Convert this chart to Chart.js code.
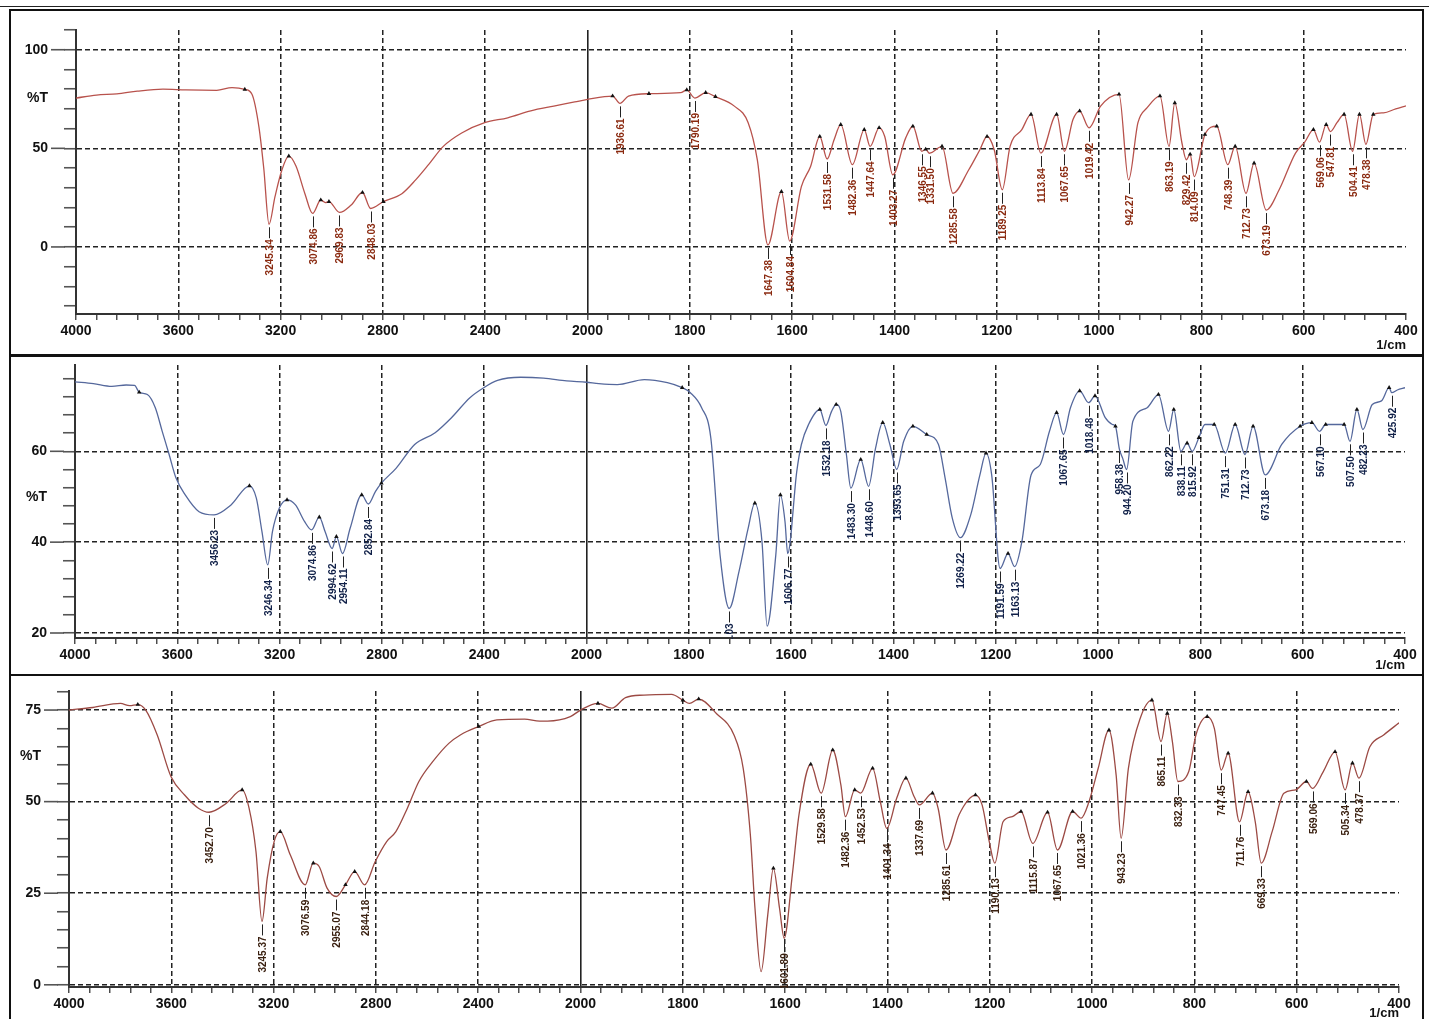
<!DOCTYPE html>
<html>
<head>
<meta charset="utf-8">
<script src="https://cdn.jsdelivr.net/npm/chart.js@4.4.1/dist/chart.umd.min.js"></script>
<style>
  html, body { margin: 0; padding: 0; background: #fff; width: 1429px; height: 1019px; overflow: hidden; }
  .rule { position: absolute; left: 0; top: 6px; width: 1429px; border-top: 1.5px solid #222; }
  .panel { position: absolute; left: 9px; width: 1415px; box-sizing: border-box; border: 2px solid #111; background: #fff; }
  .panel canvas { display: block; }
</style>
</head>
<body>
<div class="rule"></div>
<div class="panel" style="top:9px;height:347px"><canvas id="c1" width="1411" height="343"></canvas></div>
<div class="panel" style="top:355px;height:321px"><canvas id="c2" width="1411" height="317"></canvas></div>
<div class="panel" style="top:674px;height:352px"><canvas id="c3" width="1411" height="346"></canvas></div>
<script>
// ---- x axis (wavenumber, 1/cm) ----
const xLabels = [4000, 3600, 3200, 2800, 2400, 2000, 1800, 1600, 1400, 1200, 1000, 800, 600, 400];

// ---- spectrum 1 (top, red) ----
const p1Wn = [4000, 3920, 3840, 3760, 3660, 3570, 3450, 3390, 3340, 3312, 3285, 3266, 3245.34, 3222, 3195, 3168, 3140, 3105, 3074.86, 3043, 3025, 3011, 2969.83, 2924, 2880, 2848.03, 2798, 2726, 2672, 2620, 2564, 2492, 2402, 2312, 2222, 2132, 2050, 2000,
  1951, 1936.61, 1920, 1880, 1818, 1806, 1790.19, 1769, 1750, 1713, 1686, 1668, 1647.38, 1621, 1604.84, 1582, 1564, 1546, 1531.58, 1518, 1505, 1482.36, 1459, 1447.64, 1430, 1419, 1403.27, 1378, 1364, 1346.55, 1339, 1331.50, 1307, 1285.58, 1255, 1233, 1219, 1205, 1189.25, 1174, 1151, 1133, 1113.84, 1083, 1067.65, 1051, 1038, 1019.42, 997, 961, 942.27, 924, 906, 881, 863.19, 852, 838, 829.42, 822, 814.09, 793, 770, 748.39, 734, 712.73, 697, 673.19, 648, 616, 598, 581, 569.06, 556, 547.81, 535, 521, 504.41, 491, 478.38, 464, 444, 420, 400];
const p1T = [75.5, 77.0, 77.6, 79.0, 80.0, 79.6, 79.4, 80.8, 79.9, 77.4, 61, 40, 11.5, 25.5, 39, 46, 41, 27, 17, 23.8, 22.5, 23, 17.5, 21.3, 27.6, 19.5, 23, 27, 34, 42, 51, 57.8, 63, 65.5, 69, 71.4, 73.5, 74.8,
  76.5, 72.8, 76.5, 77.7, 78.2, 79.6, 75.5, 78.2, 76.2, 71.4, 63, 44, 1, 28, 3, 30.6, 40.8, 56, 44.6, 54.4, 62, 41.7, 59.5, 51, 60.4, 56, 36.6, 55.3, 61.2, 48.5, 49.5, 47.5, 51, 27.2, 39, 49.3, 56, 49.3, 29, 51, 59.5, 67.2, 47.6, 67.2, 48.5, 64.6, 68.9, 60.4, 71.4, 77.4, 34, 63, 70.6, 76.5, 51, 73, 52.7, 44.2, 47, 35.7, 57, 61.2, 41.7, 51, 27.2, 42.5, 18.7, 29, 47.6, 53.1, 59.5, 53.1, 62, 58.5, 63, 67.2, 48.5, 67.2, 52, 67.2, 68, 70, 71.5];
const p1PeakWn = [3245.34, 3074.86, 2969.83, 2848.03, 1936.61, 1790.19, 1647.38, 1604.84, 1531.58, 1482.36, 1447.64, 1403.27, 1346.55, 1331.50, 1285.58, 1189.25, 1113.84, 1067.65, 1019.42, 942.27, 863.19, 829.42, 814.09, 748.39, 712.73, 673.19, 569.06, 547.81, 504.41, 478.38];
const p1PeakT = [11.5, 17, 17.5, 19.5, 72.8, 75.5, 1, 3, 44.6, 41.7, 51, 36.6, 48.5, 47.5, 27.2, 29, 47.6, 48.5, 60.4, 34, 51, 44.2, 35.7, 41.7, 27.2, 18.7, 53.1, 58.5, 48.5, 52];
const p1MarkWn = [3340, 3168, 3043, 3011, 2880, 2798, 1951, 1880, 1806, 1769, 1750, 1621, 1546, 1505, 1459, 1430, 1364, 1339, 1307, 1219, 1133, 1083, 1038, 961, 881, 852, 822, 793, 770, 734, 697, 581, 556, 521, 491, 464];
const p1MarkT = [79.9, 46, 23.8, 23, 27.6, 23, 76.5, 77.7, 79.6, 78.2, 76.2, 28, 56, 62, 59.5, 60.4, 61.2, 49.5, 51, 56, 67.2, 67.2, 68.9, 77.4, 76.5, 73, 47, 57, 61.2, 51, 42.5, 59.5, 62, 67.2, 67.2, 67.2];
const p1YTicks = [110, 100, 90, 80, 70, 60, 50, 40, 30, 20, 10, 0, -10, -20, -30];
const p1YLabels = [100, 50, 0];

// ---- spectrum 2 (middle, blue) ----
const p2Wn = [4000, 3928, 3856, 3800, 3767, 3749, 3717, 3686, 3659, 3632, 3605, 3569, 3515, 3456.23, 3390, 3318, 3291, 3269, 3246.34, 3228, 3201, 3171, 3138, 3102, 3074.86, 3045, 3022, 2994.62, 2978, 2954.11, 2924, 2879, 2852.84, 2825, 2802, 2744, 2672, 2592, 2528, 2456, 2402, 2348, 2258, 2168, 2078, 2000,
  1976, 1940, 1887, 1842, 1813, 1797, 1775, 1757, 1739, 1721.03, 1702, 1684, 1671, 1657, 1647, 1630, 1621, 1612, 1606.77, 1589, 1580, 1566, 1544, 1532.18, 1521, 1512, 1503, 1492, 1483.30, 1464, 1448.60, 1435, 1421, 1407, 1393.65, 1380, 1362, 1335, 1312, 1299, 1285, 1269.22, 1249, 1231, 1219, 1208, 1191.59, 1176, 1163.13, 1149, 1131, 1113, 1095, 1081, 1067.65, 1054, 1036, 1018.48, 1006, 986, 972, 966, 958.38, 952, 944.20, 932, 904, 882, 862.22, 852, 838.11, 826, 815.92, 803, 791, 773, 751.31, 732, 712.73, 697, 673.18, 641, 605, 582, 567.10, 555, 519, 507.50, 494, 482.23, 464, 446, 431, 425.92, 415, 400];
const p2T = [75.3, 74.9, 74.3, 74.6, 74.5, 73, 72.5, 69.6, 64.4, 59.3, 54.1, 50.4, 46.7, 46, 48.2, 52.4, 49.7, 42.3, 35, 42.3, 47.5, 49.3, 48.2, 44.5, 42.7, 45.5, 42.3, 38.6, 41.2, 37.5, 43.1, 50.4, 48.4, 51.2, 53, 56.3, 61.5, 64.1, 67.4, 71.8, 74, 75.6, 76.3, 76.1, 75.5, 75.2,
  74.9, 74.7, 75.8, 75.1, 74, 72.9, 69.6, 62.9, 37.2, 25.4, 33.5, 43.1, 48.6, 40.1, 21.5, 37.2, 50.4, 44.5, 37.5, 55.6, 61.5, 65.9, 69.2, 65.7, 68.8, 70.3, 68.8, 59.3, 51.9, 58.2, 52.3, 60.7, 66.3, 61.5, 56, 62.2, 65.5, 63.7, 61.5, 54.1, 45.3, 41, 46, 54.8, 59.6, 54.8, 34.2, 37.5, 34.6, 40.1, 54.8, 57.1, 64.4, 68.5, 63.7, 69.6, 73.3, 70.7, 72.2, 67.4, 65.9, 65.5, 60.5, 58.5, 56, 66.6, 69.6, 72.5, 64.4, 69.2, 60, 61.8, 60, 63, 65.9, 65.9, 59.6, 65.9, 59.3, 65.5, 54.8, 61.5, 65.5, 66.3, 64.4, 65.9, 65.9, 62.2, 69.2, 64.8, 70.3, 71.1, 74, 72.9, 73.5, 74];
const p2PeakWn = [3456.23, 3246.34, 3074.86, 2994.62, 2954.11, 2852.84, 1721.03, 1606.77, 1532.18, 1483.30, 1448.60, 1393.65, 1269.22, 1191.59, 1163.13, 1067.65, 1018.48, 958.38, 944.20, 862.22, 838.11, 815.92, 751.31, 712.73, 673.18, 567.10, 507.50, 482.23, 425.92];
const p2PeakT = [46, 35, 42.7, 38.6, 37.5, 48.4, 25.4, 37.5, 65.7, 51.9, 52.3, 56, 41, 34.2, 34.6, 63.7, 70.7, 60.5, 56, 64.4, 60, 60, 59.6, 59.3, 54.8, 64.4, 62.2, 64.8, 72.9];
const p2MarkWn = [3749, 3318, 3171, 3045, 2978, 2879, 2802, 1813, 1671, 1621, 1544, 1512, 1464, 1421, 1362, 1335, 1219, 1176, 1081, 1036, 1006, 966, 882, 852, 826, 803, 773, 732, 697, 605, 582, 555, 519, 494, 431];
const p2MarkT = [73, 52.4, 49.3, 45.5, 41.2, 50.4, 53, 74, 48.6, 50.4, 69.2, 70.3, 58.2, 66.3, 65.5, 63.7, 59.6, 37.5, 68.5, 73.3, 72.2, 65.5, 72.5, 69.2, 61.8, 63, 65.9, 65.9, 65.5, 65.5, 66.3, 65.9, 65.9, 69.2, 74];
const p2YTicks = [76, 72, 68, 64, 60, 56, 52, 48, 44, 40, 36, 32, 28, 24, 20];
const p2YLabels = [60, 40, 20];

// ---- spectrum 3 (bottom, brown) ----
const p3Wn = [4000, 3907, 3799, 3763, 3731, 3700, 3655, 3601, 3548, 3494, 3452.70, 3386, 3323, 3296, 3269, 3245.37, 3225, 3198, 3174, 3135, 3076.59, 3045, 3022, 2991, 2955.07, 2919, 2883, 2844.18, 2803, 2758, 2722, 2677, 2632, 2578, 2515, 2470, 2398, 2327, 2219, 2160, 2129, 2040, 2000,
  1966, 1939, 1912, 1876, 1822, 1800, 1787, 1769, 1734, 1700, 1682, 1668, 1659, 1647, 1634, 1623, 1611, 1601.89, 1586, 1573, 1550, 1529.58, 1507, 1491, 1482.36, 1464, 1452.53, 1429, 1414, 1401.34, 1382, 1364, 1348, 1337.69, 1312, 1301, 1285.61, 1260, 1242, 1228, 1215, 1201, 1190.13, 1174, 1156, 1139, 1115.87, 1087, 1067.65, 1038, 1021.36, 1006, 988, 967, 953, 943.23, 929, 906, 883, 865.11, 853, 843, 832.33, 811, 797, 775, 761, 747.45, 734, 711.76, 695, 681, 669.33, 648, 625, 602, 581, 569.06, 548, 525, 505.34, 491, 478.37, 457, 430, 400];
const p3T = [75, 75.7, 76.8, 76.2, 76.5, 75, 68.2, 56.8, 51.8, 48.2, 47.1, 49.5, 53.2, 48.2, 36.4, 17.3, 29.1, 39.1, 41.8, 35.5, 27.3, 33.2, 32.3, 26.4, 24.1, 27.3, 30.9, 27.3, 33.6, 39.1, 41.8, 48.2, 55.5, 60.9, 65.9, 68.2, 70.5, 72.3, 72.5, 72, 72, 73.2, 75,
  76.8, 75.5, 78.4, 79.1, 79.3, 77.7, 76.8, 78, 74, 68.2, 59.1, 40.9, 20.9, 3.6, 19.1, 31.8, 20.9, 12.7, 30, 46.4, 60.2, 52.3, 64.1, 54.5, 45.9, 53.2, 52.3, 59.1, 50, 42.7, 50.9, 56.4, 51.4, 49.1, 52.3, 48.2, 36.8, 46.4, 50.5, 51.8, 49.1, 39.1, 33.2, 44.5, 45.9, 47.3, 38.6, 47.1, 36.8, 47.3, 45.5, 50, 59.1, 69.5, 57.3, 40, 59.1, 72.7, 77.7, 66.4, 74.1, 66.4, 55.5, 58.2, 68.2, 73.2, 70, 58.6, 63.2, 44.5, 52.7, 44.5, 33.2, 41.8, 52.3, 53.2, 55.5, 53.6, 58.2, 63.6, 53.2, 60.5, 56.4, 65, 68.2, 71.5];
const p3PeakWn = [3452.70, 3245.37, 3076.59, 2955.07, 2844.18, 1601.89, 1529.58, 1482.36, 1452.53, 1401.34, 1337.69, 1285.61, 1190.13, 1115.87, 1067.65, 1021.36, 943.23, 865.11, 832.33, 747.45, 711.76, 669.33, 569.06, 505.34, 478.37];
const p3PeakT = [47.1, 17.3, 27.3, 24.1, 27.3, 12.7, 52.3, 45.9, 52.3, 42.7, 49.1, 36.8, 33.2, 38.6, 36.8, 45.5, 40, 66.4, 55.5, 58.6, 44.5, 33.2, 53.6, 53.2, 56.4];
const p3MarkWn = [3731, 3323, 3174, 3045, 2919, 2883, 2398, 1966, 1800, 1769, 1623, 1550, 1507, 1464, 1429, 1364, 1312, 1228, 1139, 1087, 1038, 967, 883, 853, 775, 734, 695, 581, 525, 491];
const p3MarkT = [76.5, 53.2, 41.8, 33.2, 27.3, 30.9, 70.5, 76.8, 77.7, 78, 31.8, 60.2, 64.1, 53.2, 59.1, 56.4, 52.3, 51.8, 47.3, 47.1, 47.3, 69.5, 77.7, 74.1, 73.2, 63.2, 52.7, 55.5, 63.6, 60.5];
const p3YTicks = [80, 75, 70, 65, 60, 55, 50, 45, 40, 35, 30, 25, 20, 15, 10, 5, 0];
const p3YLabels = [75, 50, 25, 0];

const FONT = '"Liberation Sans", Arial, sans-serif';

// minor ticks: 5 per major interval
const xTicks = [];
for (let i = 0; i < xLabels.length - 1; i++) {
  const a = xLabels[i], b = xLabels[i + 1];
  for (let k = 0; k < 5; k++) xTicks.push(a + (b - a) * k / 5);
}
xTicks.push(xLabels[xLabels.length - 1]);

// wavenumber axis: 4000-2000 drawn at half the scale of 2000-400
const X_HI = 4000, X_BREAK = 2000, X_LO = 400;
const xUnit = (v) => v >= X_BREAK ? (X_HI - v) / 2 : (X_HI - X_BREAK) / 2 + (X_BREAK - v);

class FtirScale extends Chart.LinearScale {
  static id = 'ftir';
  buildTicks() { return xTicks.map(v => ({ value: v })); }
  getPixelForValue(v) { return this.left + xUnit(v) / xUnit(X_LO) * this.width; }
  getValueForPixel(p) {
    const u = (p - this.left) / this.width * xUnit(X_LO);
    const ub = xUnit(X_BREAK);
    return u <= ub ? X_HI - 2 * u : X_BREAK - (u - ub);
  }
}
Chart.register(FtirScale);

const pts = (xs, ys) => xs.map((x, i) => ({ x, y: ys[i] }));

function peakPlugin(cfg) {
  return {
    id: 'peaks',
    afterDatasetsDraw(chart) {
      const { ctx, chartArea: a, scales: { x, y } } = chart;
      ctx.save();
      ctx.beginPath();
      ctx.rect(a.left, a.top, a.right - a.left, a.bottom - a.top + 1);
      ctx.clip();
      ctx.font = 'bold 10px ' + FONT;
      cfg.peakWn.forEach((w, i) => {
        const px = Math.round(x.getPixelForValue(w)) + 0.5;
        const py = y.getPixelForValue(cfg.peakT[i]);
        ctx.strokeStyle = '#222';
        ctx.lineWidth = 1;
        ctx.beginPath();
        ctx.moveTo(px, py + 3);
        ctx.lineTo(px, py + 14);
        ctx.stroke();
        ctx.save();
        ctx.translate(px, py + 15);
        ctx.rotate(-Math.PI / 2);
        ctx.fillStyle = cfg.labelColor;
        ctx.textAlign = 'right';
        ctx.textBaseline = 'middle';
        ctx.fillText(w.toFixed(2), 0, 0.5);
        ctx.restore();
      });
      ctx.restore();
    },
    afterDraw(chart) {
      const { ctx, chartArea: a, scales: { y } } = chart;
      ctx.save();
      // long tick marks at labelled values
      ctx.strokeStyle = '#555';
      ctx.lineWidth = 1.6;
      cfg.yLabels.forEach(v => {
        const py = y.getPixelForValue(v);
        ctx.beginPath();
        ctx.moveTo(a.left - 25, py);
        ctx.lineTo(a.left - 11, py);
        ctx.stroke();
      });
      ctx.fillStyle = '#111';
      ctx.font = 'bold 14px ' + FONT;
      ctx.textAlign = 'right';
      ctx.textBaseline = 'middle';
      ctx.fillText('%T', a.left - 28, y.getPixelForValue(cfg.pctAt));
      ctx.restore();
    }
  };
}

function makeSpectrum(id, cfg) {
  return new Chart(document.getElementById(id), {
    type: 'line',
    data: {
      datasets: [
        {
          data: pts(cfg.markWn, cfg.markT),
          showLine: false,
          pointStyle: 'triangle',
          pointRadius: 2.6,
          pointBackgroundColor: '#111',
          pointBorderColor: '#111',
          pointBorderWidth: 0,
          order: 0
        },
        {
          data: pts(cfg.wn, cfg.t),
          borderColor: cfg.color,
          borderWidth: 1.3,
          pointRadius: 0,
          cubicInterpolationMode: 'monotone',
          fill: false,
          order: 1
        }
      ]
    },
    options: {
      responsive: false,
      animation: false,
      events: [],
      layout: { padding: { top: cfg.padTop, right: cfg.padRight, left: 0, bottom: 0 } },
      plugins: { legend: { display: false }, tooltip: { enabled: false } },
      scales: {
        x: {
          type: 'ftir',
          min: X_LO,
          max: X_HI,
          afterFit: (s) => { s.height = cfg.xHeight; },
          grid: {
            color: (c) => (c.tick && c.tick.value !== X_HI && c.tick.value !== X_LO && xLabels.includes(c.tick.value)) ? '#222' : 'rgba(0,0,0,0)',
            lineWidth: (c) => (c.tick && c.tick.value === X_BREAK) ? 1.6 : 1.5,
            tickLength: 6,
            tickColor: '#444',
            tickWidth: 1.4
          },
          border: {
            color: '#333',
            width: 2,
            dash: (c) => (c.tick && c.tick.value === X_BREAK) ? [] : [5, 3]
          },
          ticks: {
            autoSkip: false,
            maxRotation: 0,
            minRotation: 0,
            padding: 3,
            color: '#111',
            font: { family: FONT, size: 14, weight: 'bold' },
            callback: (v) => xLabels.includes(v) ? String(v) : ''
          },
          title: {
            display: true,
            text: '1/cm',
            align: 'end',
            color: '#111',
            padding: { top: 0, bottom: 1 },
            font: { family: FONT, size: 13, weight: 'bold' }
          }
        },
        y: {
          min: cfg.yMin,
          max: cfg.yMax,
          afterFit: (s) => { s.width = cfg.yWidth; s.paddingTop = 0; s.paddingBottom = 0; },
          afterBuildTicks: (s) => { s.ticks = cfg.yTicks.map(v => ({ value: v })); },
          grid: {
            color: (c) => (c.tick && cfg.yLabels.includes(c.tick.value)) ? '#222' : 'rgba(0,0,0,0)',
            lineWidth: 1.5,
            tickLength: 12,
            tickColor: '#555',
            tickWidth: 1.6
          },
          border: { color: '#333', width: 2, dash: [5, 3] },
          ticks: {
            autoSkip: false,
            padding: 16,
            color: '#111',
            font: { family: FONT, size: 14, weight: 'bold' },
            callback: (v) => cfg.yLabels.includes(v) ? String(v) : ''
          }
        }
      }
    },
    plugins: [peakPlugin(cfg)]
  });
}

makeSpectrum('c1', {
  wn: p1Wn, t: p1T, peakWn: p1PeakWn, peakT: p1PeakT, markWn: p1MarkWn, markT: p1MarkT,
  yTicks: p1YTicks, yLabels: p1YLabels, yMin: -34, yMax: 110, pctAt: 75.5,
  color: '#b8524c', labelColor: '#8a2a10',
  yWidth: 65, xHeight: 40, padTop: 19, padRight: 16
});

makeSpectrum('c2', {
  wn: p2Wn, t: p2T, peakWn: p2PeakWn, peakT: p2PeakT, markWn: p2MarkWn, markT: p2MarkT,
  yTicks: p2YTicks, yLabels: p2YLabels, yMin: 18.9, yMax: 79, pctAt: 50,
  color: '#55689c', labelColor: '#102048',
  yWidth: 64, xHeight: 36, padTop: 8, padRight: 17
});

makeSpectrum('c3', {
  wn: p3Wn, t: p3T, peakWn: p3PeakWn, peakT: p3PeakT, markWn: p3MarkWn, markT: p3MarkT,
  yTicks: p3YTicks, yLabels: p3YLabels, yMin: -0.6, yMax: 80.2, pctAt: 62.5,
  color: '#9c4a44', labelColor: '#3a2010',
  yWidth: 58, xHeight: 35, padTop: 15, padRight: 23
});
</script>
</body>
</html>
